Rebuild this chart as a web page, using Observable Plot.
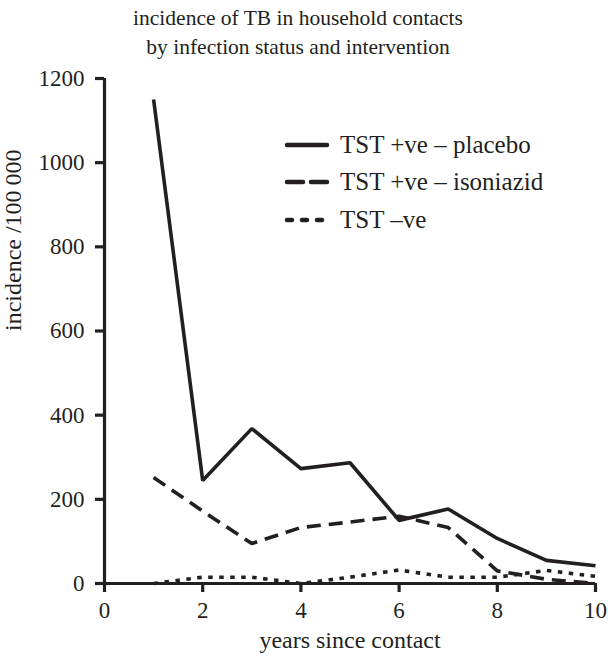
<!DOCTYPE html>
<html>
<head>
<meta charset="utf-8">
<script src="https://cdn.jsdelivr.net/npm/d3@7"></script>
<script src="https://cdn.jsdelivr.net/npm/@observablehq/plot@0.6"></script>
<style>
  body { margin: 0; background: #fff; font-family: "Liberation Serif", "DejaVu Serif", serif; }
  #wrap { position: relative; width: 608px; height: 657px; }
  #title { position: absolute; left: 0; top: 4px; width: 596px; text-align: center; font-size: 21.5px; line-height: 29px; color: #231f20; }
  #chart { position: absolute; left: 0; top: 64px; }
  #legend { position: absolute; left: 284px; top: 126px; font-size: 25px; color: #231f20; }
  .row { display: flex; align-items: center; height: 37.5px; }
  .row svg { margin-right: 10px; }
</style>
</head>
<body>
<div id="wrap">
  <div id="title">incidence of TB in household contacts<br>by infection status and intervention</div>
  <div id="chart"></div>
  <div id="legend"></div>
</div>
<script>
const years = [1, 2, 3, 4, 5, 6, 7, 8, 9, 10];
const placebo = [1150, 245, 368, 273, 287, 150, 177, 107, 55, 42];
const isoniazid = [252, 172, 95, 133, 146, 160, 133, 30, 10, 0];
const negative = [0, 15, 15, 0, 15, 32, 15, 15, 31, 17];
const seriesNames = ["TST +ve \u2013 placebo", "TST +ve \u2013 isoniazid", "TST \u2013ve"];
const dashes = ["none", "14,8", "4.5,6.5"];
const legendDashes = ["none", "16,8", "5,10"];
const xTicks = [0, 2, 4, 6, 8, 10];
const yTicks = [0, 200, 400, 600, 800, 1000, 1200];

const data = [];
[placebo, isoniazid, negative].forEach((vals, i) => {
  vals.forEach((v, j) => data.push({series: seriesNames[i], year: years[j], value: v}));
});

const ink = "#231f20";
const plot = Plot.plot({
  width: 608,
  height: 593,
  marginLeft: 104,
  marginRight: 13,
  marginTop: 14,
  marginBottom: 74,
  style: {fontFamily: "Liberation Serif, serif", fontSize: "23px", color: ink, background: "white"},
  x: {domain: [0, 10]},
  y: {domain: [0, 1200]},
  marks: [
    ...seriesNames.map((s, i) => Plot.line(data.filter(d => d.series === s), {
      x: "year", y: "value", stroke: ink, strokeWidth: 3.6,
      strokeDasharray: dashes[i], strokeLinejoin: "miter", strokeLinecap: "butt"
    })),
    Plot.ruleX([0], {stroke: ink, strokeWidth: 3.2}),
    Plot.ruleY([0], {stroke: ink, strokeWidth: 3.2}),
    Plot.axisX({ticks: xTicks, tickSize: 9, tickPadding: 9, strokeWidth: 3.2, stroke: ink, fontSize: 23,
      label: null}),
    Plot.axisY({ticks: yTicks, tickSize: 9, tickPadding: 11, strokeWidth: 3.2, stroke: ink, fontSize: 23,
      tickFormat: d => String(d), label: null}),
    Plot.text(["years since contact"], {frameAnchor: "bottom", dy: 64, fontSize: 24, fill: ink}),
    Plot.text(["incidence /100\u2009000"], {frameAnchor: "left", rotate: -90, dx: -91, fontSize: 24, fill: ink})
  ]
});
document.getElementById("chart").appendChild(plot);

const legend = document.getElementById("legend");
seriesNames.forEach((s, i) => {
  const row = document.createElement("div");
  row.className = "row";
  row.innerHTML = `<svg width="46" height="10"><line x1="3" y1="5" x2="43" y2="5" stroke="${ink}" stroke-width="4.5" stroke-linecap="round" stroke-dasharray="${legendDashes[i]}"></line></svg><span>${s}</span>`;
  legend.appendChild(row);
});
</script>
</body>
</html>
